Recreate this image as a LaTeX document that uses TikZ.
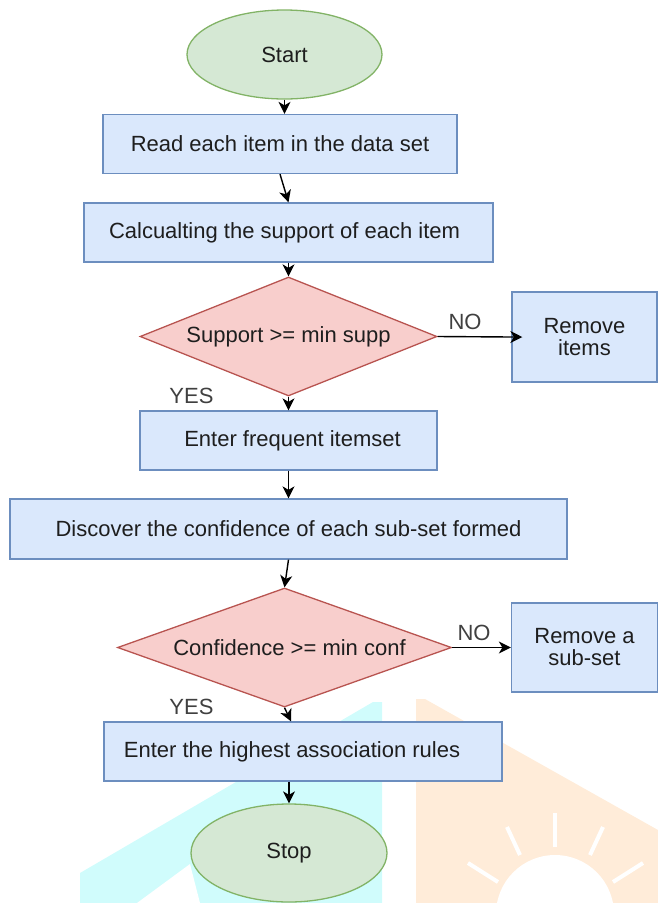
\documentclass[tikz,border=0pt]{standalone}
\usepackage{fontspec}
\setmainfont{Liberation Sans}
\usetikzlibrary{shapes.geometric,arrows.meta}
\definecolor{gfill}{HTML}{D5E8D4}
\definecolor{gline}{HTML}{82B366}
\definecolor{bfill}{HTML}{DAE8FC}
\definecolor{bline}{HTML}{6C8EBF}
\definecolor{rfill}{HTML}{F8CECC}
\definecolor{rline}{HTML}{B85450}
\definecolor{txt}{HTML}{1E1E1E}
\definecolor{wcyan}{RGB}{208,252,252}
\definecolor{wpeach}{RGB}{255,236,217}
\tikzset{
  base/.style={font=\fontsize{22}{22}\selectfont, text=txt, line width=1.3pt, inner sep=0pt},
  terminal/.style={base, ellipse, draw=gline, fill=gfill},
  procbox/.style={base, rectangle, draw=bline, fill=bfill, align=center},
  decision/.style={base, diamond, draw=rline, fill=rfill, aspect=2.5},
  lbl/.style={font=\fontsize{22}{22}\selectfont, text=txt!85, inner sep=0pt},
  arr/.style={draw=black, line width=1.4pt, -{Stealth[length=12pt,width=12pt,inset=3.5pt]}}
}
\begin{document}
\begin{tikzpicture}[x=1pt,y=-1pt]
\useasboundingbox (0,0) rectangle (658,903);
% watermark background
\fill[wcyan] (373,702) -- (382,702) -- (382,903) -- (80,903) -- (80,873) -- cycle;
\fill[white] (137,903) -- (190,864) -- (200,903) -- cycle;
\fill[wpeach] (416,699) -- (425,699) -- (658,830) -- (658,903) -- (416,903) -- cycle;
\fill[white] (555,914) circle[radius=59];
\begin{scope}[draw=white, line width=4pt]
  \draw (555,813) -- (555,847);
  \draw (507,827) -- (520,855);
  \draw (603,827) -- (590,855);
  \draw (468,863) -- (498,882);
  \draw (643,863) -- (613,882);
\end{scope}
% nodes
\node[terminal, minimum width=195pt, minimum height=89pt] (start) at (284.5,54.5) {Start};
\node[procbox, minimum width=354pt, minimum height=59pt] (b1) at (280,144) {Read each item in the data set};
\node[procbox, minimum width=409pt, minimum height=59pt] (b2) at (288.5,232.5) {Calcualting the support of each item\hspace*{8pt}};
\node[decision, minimum width=297pt, minimum height=119pt] (d1) at (288.5,336.5) {Support >= min supp};
\node[procbox, minimum width=145pt, minimum height=90pt] (r1) at (584.5,337) {Remove\\items};
\node[lbl] (no1) at (465,322) {NO};
\node[lbl] (yes1) at (191.5,396) {YES};
\node[procbox, minimum width=297pt, minimum height=59pt] (b3) at (288.5,440.5) {\hspace*{8pt}Enter frequent itemset};
\node[procbox, minimum width=557pt, minimum height=60pt] (b4) at (288.5,529) {Discover the confidence of each sub-set formed};
\node[decision, minimum width=334pt, minimum height=119pt] (d2) at (284.5,647.5) {\hspace*{10pt}Confidence >= min conf};
\node[procbox, minimum width=146pt, minimum height=89pt] (r2) at (584.5,647.5) {Remove a\\sub-set};
\node[lbl] (no2) at (474,633) {NO};
\node[lbl] (yes2) at (191.5,707) {YES};
\node[procbox, minimum width=398pt, minimum height=59pt] (b5) at (303,751.5) {Enter the highest association rules\hspace*{22pt}};
\node[terminal, minimum width=196pt, minimum height=98pt] (stop) at (289,853) {Stop};
% connectors
\draw[arr] (start.south) -- (start.south |- b1.north);
\draw[arr] (b1.south) -- (b2.north);
\draw[arr] (b2.south) -- (d1.north);
\draw[arr, shorten >=-11pt] (d1.east) -- (r1.west);
\draw[arr] (d1.south) -- (b3.north);
\draw[arr] (b3.south) -- (b4.north);
\draw[arr] (b4.south) -- (d2.north);
\draw[arr] (d2.east) -- (r2.west);
\draw[arr] (d2.south) -- ([xshift=-12pt]b5.north);
\draw[arr] (b5.south -| stop.north) -- (stop.north);
\end{tikzpicture}
\end{document}
